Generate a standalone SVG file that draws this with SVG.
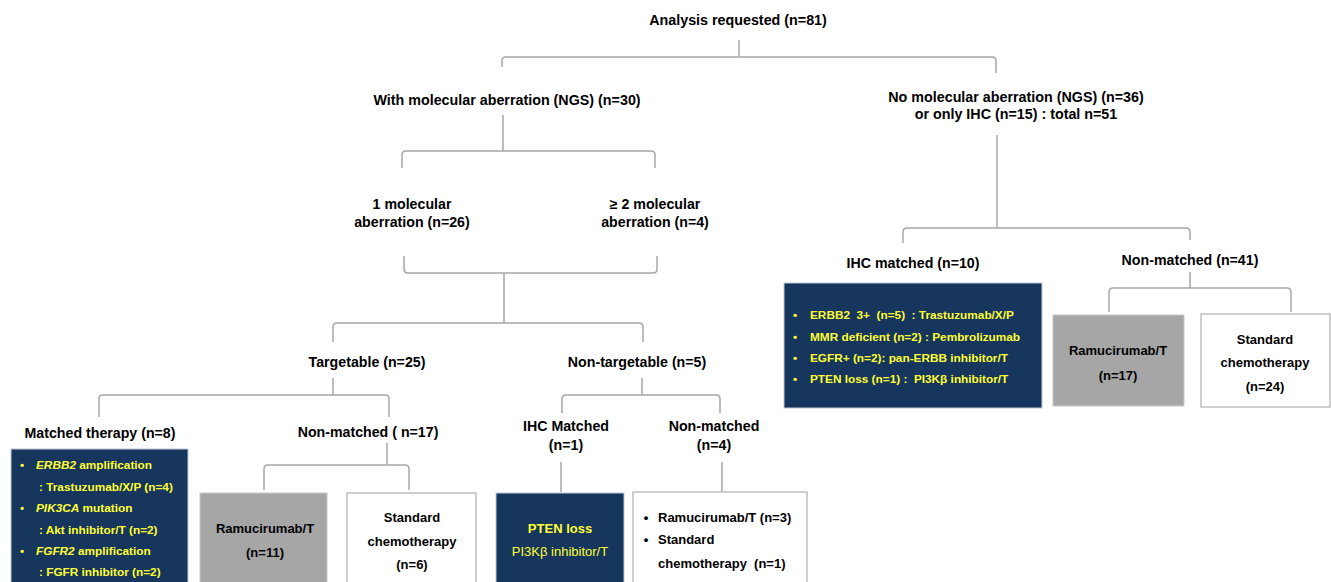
<svg xmlns="http://www.w3.org/2000/svg" width="1331" height="582" viewBox="0 0 1331 582">
<style>
text{font-family:"Liberation Sans",Arial,sans-serif;font-weight:bold;fill:#000}
.lbl{font-size:14.2px;text-anchor:middle}
.top{font-size:14.3px;text-anchor:middle}
.bx{font-size:13px;text-anchor:middle}
.lt{font-size:13px}
.yl{fill:#ffff33;font-size:11.8px}
.yc{fill:#ffff33;text-anchor:middle}
.it{font-style:italic}
.navy{fill:#17365d;stroke:#c0c8d4;stroke-width:1}
.gray{fill:#a6a6a6;stroke:#c8c8c8;stroke-width:1}
.white{fill:#fff;stroke:#bfbfbf;stroke-width:1.5}
.conn path{fill:none;stroke:#a6a6a6;stroke-width:1.5}
</style>
<rect width="1331" height="582" fill="#fff"/>
<g class="conn" id="connectors">
<path d="M739 40V57"/>
<path d="M502 67V61Q502 57 506 57H992Q996 57 996 61V73"/>
<path d="M503 115V151"/>
<path d="M402 168V155Q402 151 406 151H651Q655 151 655 155V168"/>
<path d="M404 256V269Q404 273 408 273H653Q657 273 657 269V256"/>
<path d="M504 273V323"/>
<path d="M333 342V327Q333 323 337 323H639Q643 323 643 327V342"/>
<path d="M333 378V395"/>
<path d="M99 417V399Q99 395 103 395H385Q389 395 389 399V417"/>
<path d="M642 378V395"/>
<path d="M562 413V399Q562 395 566 395H716Q720 395 720 399V413"/>
<path d="M387 443V465"/>
<path d="M264 490V469Q264 465 268 465H405Q409 465 409 469V490"/>
<path d="M561 462V492"/>
<path d="M722 462V492"/>
<path d="M997 135V228"/>
<path d="M903 243V232Q903 228 907 228H1186Q1190 228 1190 232V240"/>
<path d="M1190 272V288"/>
<path d="M1109 312V292Q1109 288 1113 288H1287Q1291 288 1291 292V312"/>
</g>
<g id="n-root"><text class="top" x="738" y="25">Analysis requested (n=81)</text></g>
<g id="n-with"><text class="top" x="507" y="105">With molecular aberration (NGS) (n=30)</text></g>
<g id="n-no"><text class="top" x="1016" y="102">No molecular aberration (NGS) (n=36)</text><text class="top" x="1016" y="119">or only IHC (n=15) : total n=51</text></g>
<g id="n-one"><text class="lbl" x="412" y="209">1 molecular</text><text class="lbl" x="412" y="227">aberration (n=26)</text></g>
<g id="n-two"><text class="lbl" x="655" y="209">≥ 2 molecular</text><text class="lbl" x="655" y="227">aberration (n=4)</text></g>
<g id="n-targetable"><text class="lbl" x="367" y="367">Targetable (n=25)</text></g>
<g id="n-nontargetable"><text class="lbl" x="637" y="367">Non-targetable (n=5)</text></g>
<g id="n-matched"><text class="lbl" x="100" y="438">Matched therapy (n=8)</text>
<rect class="navy" x="11" y="449" width="177" height="140"/>
<text class="yl" x="20" y="469">•</text><text class="yl" x="36" y="469"><tspan class="it">ERBB2</tspan> amplification</text>
<text class="yl" x="39" y="491">: Trastuzumab/X/P (n=4)</text>
<text class="yl" x="20" y="512">•</text><text class="yl" x="36" y="512"><tspan class="it">PIK3CA</tspan> mutation</text>
<text class="yl" x="39" y="534">: Akt inhibitor/T (n=2)</text>
<text class="yl" x="20" y="555">•</text><text class="yl" x="36" y="555"><tspan class="it">FGFR2</tspan> amplification</text>
<text class="yl" x="39" y="576">: FGFR inhibitor (n=2)</text>
</g>
<g id="n-nonmatched17"><text class="lbl" x="368" y="437">Non-matched ( n=17)</text></g>
<g id="n-ram11"><rect class="gray" x="200" y="493" width="127" height="95"/><text class="bx" x="265" y="533">Ramucirumab/T</text><text class="bx" x="265" y="557">(n=11)</text></g>
<g id="n-std6"><rect class="white" x="347" y="493" width="129" height="95"/><text class="bx" x="412" y="522">Standard</text><text class="bx" x="412" y="546">chemotherapy</text><text class="bx" x="412" y="569">(n=6)</text></g>
<g id="n-ihcmatched1"><text class="lbl" x="566" y="431">IHC Matched</text><text class="lbl" x="566" y="450">(n=1)</text></g>
<g id="n-nonmatched4"><text class="lbl" x="714" y="431">Non-matched</text><text class="lbl" x="714" y="450">(n=4)</text></g>
<g id="n-pten"><rect class="navy" x="496" y="493" width="128" height="95"/><text class="yc" x="560" y="533" font-size="13">PTEN loss</text><text class="yc" x="560" y="556" font-size="13" style="font-weight:normal">PI3Kβ inhibitor/T</text></g>
<g id="n-nm4box"><rect class="white" x="633" y="492" width="174" height="95"/>
<text class="bx" x="646" y="522">•</text><text class="lt" x="658" y="522">Ramucirumab/T (n=3)</text>
<text class="bx" x="646" y="544">•</text><text class="lt" x="658" y="544">Standard</text>
<text class="lt" x="658" y="568" xml:space="preserve">chemotherapy  (n=1)</text></g>
<g id="n-ihc10"><text class="lbl" x="913" y="268">IHC matched (n=10)</text>
<rect class="navy" x="784" y="283" width="258" height="125"/>
<text class="yl" x="793" y="319">•</text><text class="yl" x="810" y="319" xml:space="preserve">ERBB2  3+  (n=5)  : Trastuzumab/X/P</text>
<text class="yl" x="793" y="341">•</text><text class="yl" x="810" y="341">MMR deficient (n=2) : Pembrolizumab</text>
<text class="yl" x="793" y="362">•</text><text class="yl" x="810" y="362">EGFR+ (n=2): pan-ERBB inhibitor/T</text>
<text class="yl" x="793" y="383">•</text><text class="yl" x="810" y="383" xml:space="preserve">PTEN loss (n=1) :  PI3Kβ inhibitor/T</text>
</g>
<g id="n-nonmatched41"><text class="lbl" x="1190" y="265">Non-matched (n=41)</text></g>
<g id="n-ram17"><rect class="gray" x="1053" y="315" width="131" height="91"/><text class="bx" x="1118" y="355">Ramucirumab/T</text><text class="bx" x="1118" y="380">(n=17)</text></g>
<g id="n-std24"><rect class="white" x="1201" y="314" width="129" height="93"/><text class="bx" x="1265" y="344">Standard</text><text class="bx" x="1265" y="367">chemotherapy</text><text class="bx" x="1265" y="391">(n=24)</text></g>
</svg>
